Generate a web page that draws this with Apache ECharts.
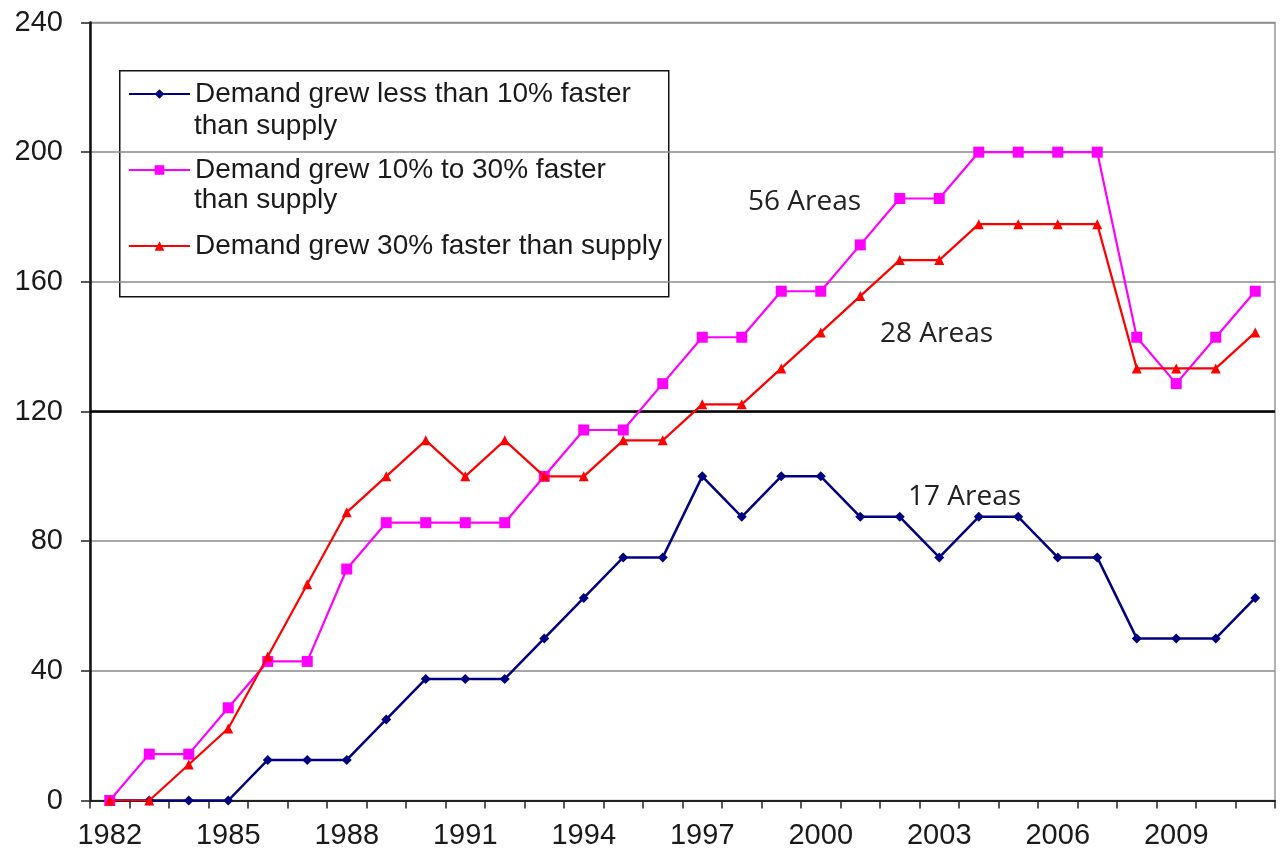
<!DOCTYPE html>
<html>
<head>
<meta charset="utf-8">
<script src="https://cdn.jsdelivr.net/npm/echarts@6/dist/echarts.min.js"></script>
<style>
  html, body { margin: 0; padding: 0; background: #fff; }
  #chart { width: 1283px; height: 852px; }
</style>
</head>
<body>
<div id="chart"></div>
<script>
// Years on the category axis
const years = ['1982','1983','1984','1985','1986','1987','1988','1989','1990','1991',
  '1992','1993','1994','1995','1996','1997','1998','1999','2000','2001',
  '2002','2003','2004','2005','2006','2007','2008','2009','2010','2011'];

// Series values
const lessThan10 = [0, 0, 0, 0, 12.5, 12.5, 12.5, 25, 37.5, 37.5,
  37.5, 50, 62.5, 75, 75, 100, 87.5, 100, 100, 87.5,
  87.5, 75, 87.5, 87.5, 75, 75, 50, 50, 50, 62.5];
const tenTo30 = [0, 14.3, 14.3, 28.6, 42.9, 42.9, 71.4, 85.7, 85.7, 85.7,
  85.7, 100, 114.3, 114.3, 128.6, 142.9, 142.9, 157.1, 157.1, 171.4,
  185.7, 185.7, 200, 200, 200, 200, 142.9, 128.6, 142.9, 157.1];
const over30 = [0, 0, 11.1, 22.2, 44.4, 66.7, 88.9, 100, 111.1, 100,
  111.1, 100, 100, 111.1, 111.1, 122.2, 122.2, 133.3, 144.4, 155.6,
  166.7, 166.7, 177.8, 177.8, 177.8, 177.8, 133.3, 133.3, 133.3, 144.4];

// Series names: first line shown in the legend, second line drawn below it
const seriesNames = [
  ['Demand grew less than 10% faster', 'than supply'],
  ['Demand grew 10% to 30% faster', 'than supply'],
  ['Demand grew 30% faster than supply', '']
];

// Y axis ticks
const yMin = 0, yMax = 240, yStep = 40;

// Text annotations
const annotations = [
  { text: '56 Areas', left: 748, y: 200 },
  { text: '28 Areas', left: 880, y: 332 },
  { text: '17 Areas', left: 908, y: 495 }
];

const fullName = (p) => p.filter(Boolean).join(' ');
const textColor = '#1a1a1a';
const sansFont = '"Liberation Sans", Arial, sans-serif';

const chart = echarts.init(document.getElementById('chart'), null, { renderer: 'canvas' });

const graphics = [
  // legend frame
  {
    type: 'rect', left: 119, top: 70, z: 0,
    shape: { width: 549, height: 226 },
    style: { fill: '#fff', stroke: '#111', lineWidth: 1.5 }
  }
];
// second lines of the wrapped legend entries
[[seriesNames[0][1], 127], [seriesNames[1][1], 201]].forEach(([t, y]) => {
  graphics.push({
    type: 'text', left: 194, top: y - 15, z: 10,
    style: { text: t, fill: textColor, font: '28px ' + sansFont }
  });
});
annotations.forEach(a => {
  graphics.push({
    type: 'text', left: a.left, top: a.y - 12, z: 10,
    style: { text: a.text, fill: '#222', font: '28px "Open Sans", sans-serif' }
  });
});

const option = {
  animation: false,
  backgroundColor: '#fff',
  grid: {
    left: 90, right: 8, top: 22.5, bottom: 51.5,
    show: true, borderColor: '#999', borderWidth: 1.5, backgroundColor: 'transparent'
  },
  legend: {
    orient: 'vertical',
    left: 128, top: 76.5,
    padding: 0,
    itemGap: 41,
    itemWidth: 61, itemHeight: 12,
    z: 5,
    data: seriesNames.map(fullName),
    formatter: (name) => {
      const found = seriesNames.find(p => fullName(p) === name);
      return found ? found[0] : name;
    },
    textStyle: { fontSize: 28, fontFamily: sansFont, color: textColor, lineHeight: 35 }
  },
  xAxis: {
    type: 'category',
    data: years,
    boundaryGap: true,
    axisLine: { lineStyle: { color: '#222', width: 2 } },
    axisTick: { show: true, interval: 0, length: 8, lineStyle: { color: '#222', width: 1.5 } },
    axisLabel: { interval: 2, margin: 21, fontSize: 29, fontFamily: sansFont, color: textColor },
    splitLine: { show: false }
  },
  yAxis: {
    type: 'value',
    min: yMin, max: yMax, interval: yStep,
    axisLine: { show: true, lineStyle: { color: '#111', width: 2.5 } },
    axisTick: { show: true, length: 9, lineStyle: { color: '#222', width: 1.5 } },
    axisLabel: { margin: 27, fontSize: 29, fontFamily: sansFont, color: textColor },
    splitLine: { show: true, lineStyle: { color: '#8a8a8a', width: 1.5 } }
  },
  series: [
    {
      name: fullName(seriesNames[0]),
      type: 'line',
      data: lessThan10,
      color: '#000080',
      symbol: 'diamond', symbolSize: 10,
      lineStyle: { width: 2.5, color: '#000080' },
      itemStyle: { color: '#000080' },
      z: 2,
      markLine: {
        silent: true, symbol: 'none', label: { show: false },
        lineStyle: { color: '#000', width: 2.5, type: 'solid' },
        data: [{ yAxis: 120 }],
        z: 1
      }
    },
    {
      name: fullName(seriesNames[1]),
      type: 'line',
      data: tenTo30,
      color: '#ff00ff',
      symbol: 'rect', symbolSize: 11,
      lineStyle: { width: 2.2, color: '#ff00ff' },
      itemStyle: { color: '#ff00ff' },
      z: 3
    },
    {
      name: fullName(seriesNames[2]),
      type: 'line',
      data: over30,
      color: '#ff0000',
      symbol: 'triangle', symbolSize: 10,
      lineStyle: { width: 2.2, color: '#ff0000' },
      itemStyle: { color: '#ff0000' },
      z: 4
    }
  ],
  graphic: graphics
};

chart.setOption(option);
</script>
</body>
</html>
